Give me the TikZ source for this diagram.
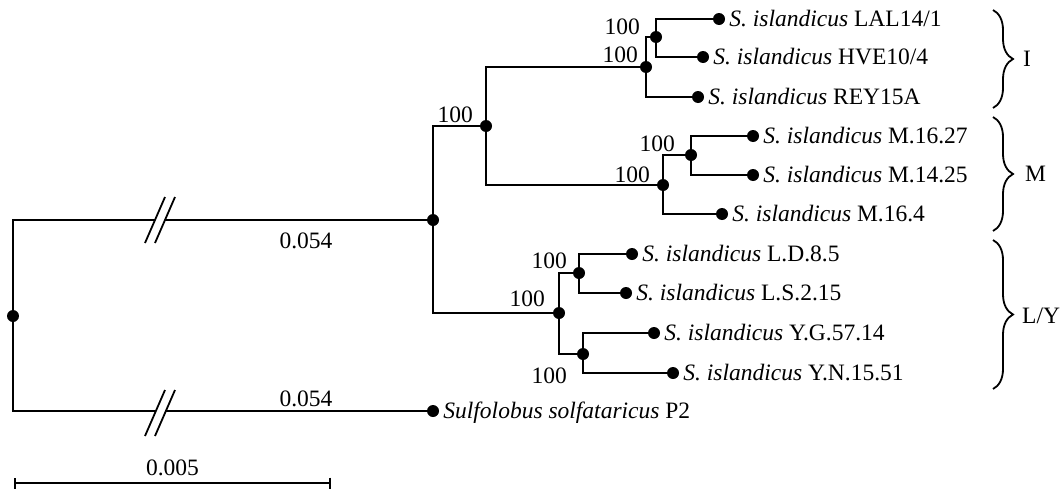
\documentclass[tikz,border=0pt]{standalone}
\usepackage{fontspec}
\setmainfont{Liberation Serif}
\usetikzlibrary{arrows.meta,decorations.pathreplacing}
\begin{document}
\begin{tikzpicture}
[x=1pt,y=-1pt,font=\fontsize{23.5}{27}\selectfont,label distance=4pt,%
  nodedecorate/.style={shape=circle,fill,inner sep=0pt,minimum size=12pt},%
  leafdecorate/.style={nodedecorate,label={[textdecorate]right:#1}},%
  textdecorate/.style={inner sep=0pt,text height=15pt,text depth=0pt},%
  bootdecorate/.style={textdecorate,anchor=south east},%
  linedecorate/.style={-,line width=2.2pt},%
  elbowdecorate/.style={linedecorate,to path={|- (\tikztotarget)}},%
  bracedecorate/.style={decorate,decoration={brace,amplitude=20pt},line width=1.8pt}]
\useasboundingbox (0,0) rectangle (1062,490);
% inner nodes
\node (r) at (13,316) [nodedecorate] {};
\node (a) at (433,220) [nodedecorate] {};
\node (im) at (486,126) [nodedecorate] {};
\node (i) at (646,67) [nodedecorate] {};
\node (i2) at (656,37) [nodedecorate] {};
\node (m) at (663,185) [nodedecorate] {};
\node (m2) at (691,155) [nodedecorate] {};
\node (ly) at (559,313) [nodedecorate] {};
\node (l) at (579,273) [nodedecorate] {};
\node (y) at (583,354) [nodedecorate] {};
% leaves
\node (lal) at (719,19) [leafdecorate={\textit{S. islandicus} LAL14/1}] {};
\node (hve) at (703,57) [leafdecorate={\textit{S. islandicus} HVE10/4}] {};
\node (rey) at (698,97) [leafdecorate={\textit{S. islandicus} REY15A}] {};
\node (m1627) at (753,136) [leafdecorate={\textit{S. islandicus} M.16.27}] {};
\node (m1425) at (753,175) [leafdecorate={\textit{S. islandicus} M.14.25}] {};
\node (m164) at (722,214) [leafdecorate={\textit{S. islandicus} M.16.4}] {};
\node (ld85) at (632,254) [leafdecorate={\textit{S. islandicus} L.D.8.5}] {};
\node (ls215) at (626,293) [leafdecorate={\textit{S. islandicus} L.S.2.15}] {};
\node (yg5714) at (654,333) [leafdecorate={\textit{S. islandicus} Y.G.57.14}] {};
\node (yn1551) at (673,373) [leafdecorate={\textit{S. islandicus} Y.N.15.51}] {};
\node (sso) at (433,411) [leafdecorate={\textit{Sulfolobus solfataricus} P2}] {};
% support values
\node[bootdecorate] (bi2) at ([shift={(-16,-2)}]i2) {100};
\node[bootdecorate] (bi) at ([shift={(-8,-4)}]i) {100};
\node[bootdecorate] (bim) at ([shift={(-13,-3)}]im) {100};
\node[bootdecorate] (bm) at ([shift={(-13,-2)}]m) {100};
\node[bootdecorate] (bm2) at ([shift={(-16,-3)}]m2) {100};
\node[bootdecorate] (bly) at ([shift={(-14,-6)}]ly) {100};
\node[bootdecorate] (bl) at ([shift={(-12,-4)}]l) {100};
\node[textdecorate,anchor=north east] (by) at ([shift={(-16,14)}]y) {100};
% long branches with breaks
\coordinate (b1) at (155,220);
\coordinate (b2) at (165,220);
\coordinate (b3) at (155,411);
\coordinate (b4) at (165,411);
\draw[linedecorate] (r) |- (b1) (b2) -- (a);
\draw[linedecorate] (r) |- (b3) (b4) -- (sso);
\draw[line width=1.8pt] (145,243) -- (165,197) (155,243) -- (175,197);
\draw[line width=1.8pt] (145,436) -- (165,390) (155,436) -- (175,390);
\node[textdecorate] (k1) at (306,241) {0.054};
\node[textdecorate] (k2) at (306,399) {0.054};
% edges or lines
\path
(a) edge[elbowdecorate] (im)
(a) edge[elbowdecorate] (ly)
(im) edge[elbowdecorate] (i)
(im) edge[elbowdecorate] (m)
(i) edge[elbowdecorate] (i2)
(i) edge[elbowdecorate] (rey)
(i2) edge[elbowdecorate] (lal)
(i2) edge[elbowdecorate] (hve)
(m) edge[elbowdecorate] (m2)
(m) edge[elbowdecorate] (m164)
(m2) edge[elbowdecorate] (m1627)
(m2) edge[elbowdecorate] (m1425)
(ly) edge[elbowdecorate] (l)
(ly) edge[elbowdecorate] (y)
(l) edge[elbowdecorate] (ld85)
(l) edge[elbowdecorate] (ls215)
(y) edge[elbowdecorate] (yg5714)
(y) edge[elbowdecorate] (yn1551);
% clades
\draw[bracedecorate] (993,10) -- (993,108);
\draw[bracedecorate] (993,117) -- (993,231);
\draw[bracedecorate] (993,240) -- (993,389);
\node[textdecorate,anchor=west] (ci) at (1023,59) {I};
\node[textdecorate,anchor=west] (cm) at (1025,174) {M};
\node[textdecorate,anchor=west] (cly) at (1022,316) {L/Y};
% scale bar
\coordinate (s0) at (14,483);
\coordinate (s1) at (331,483);
\draw[linedecorate,{Bar[width=11pt]}-{Bar[width=11pt]}] (s0) -- node[textdecorate,above=6pt] (sl) {0.005} (s1);
\end{tikzpicture}
\end{document}
